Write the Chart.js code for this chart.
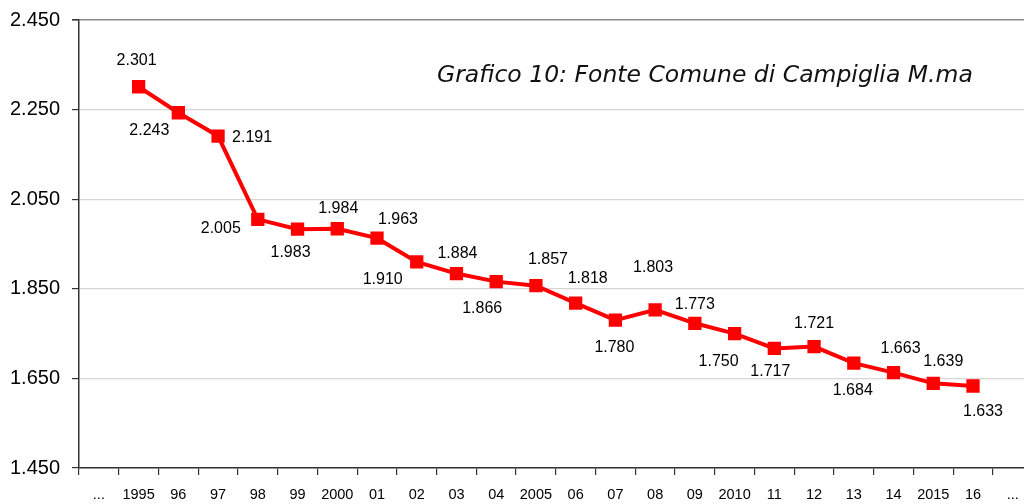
<!DOCTYPE html>
<html>
<head>
<meta charset="utf-8">
<script src="https://cdn.jsdelivr.net/npm/chart.js@4/dist/chart.umd.min.js"></script>
<style>
  html, body { margin: 0; padding: 0; background: #fff; overflow: hidden; }
  #c { display: block; }
</style>
</head>
<body>
<canvas id="c" width="1024" height="504"></canvas>
<script>
// ---- data ----
const categories = ['...', '1995', '96', '97', '98', '99', '2000', '01', '02', '03', '04', '2005',
                    '06', '07', '08', '09', '2010', '11', '12', '13', '14', '2015', '16', '...'];
const population = [null, 2301, 2243, 2191, 2005, 1983, 1984, 1963, 1910, 1884, 1866, 1857,
                    1818, 1780, 1803, 1773, 1750, 1717, 1721, 1684, 1663, 1639, 1633, null];
const yTicks = [1450, 1650, 1850, 2050, 2250, 2450];
const chartTitle = 'Grafico 10: Fonte Comune di Campiglia M.ma';

// ---- label placement (style only: offsets in px from each point) ----
const labelOffsets = [null, [-2, -26], [-29, 18], [34, 2], [-37, 9], [-7, 23], [1, -20], [21, -19],
                      [-34, 18], [1, -20], [-14, 27], [12, -26], [12, -25], [-1, 27], [-2, -42],
                      [0, -19], [-16, 28], [-4, 23], [0, -23], [-1, 27], [7, -24], [10, -22],
                      [10, 26], null];
// the plot area continues past the right edge of the picture (cropped original)
const plotRightEdge = 1032.6;

function fmt(v) {
  return String(v).replace(/\B(?=(\d{3})+(?!\d))/g, '.');
}

const extendRight = {
  id: 'extendRight',
  afterLayout(chart) {
    const xs = chart.scales.x;
    xs.right = plotRightEdge;
    xs.width = xs.right - xs.left;
    xs.configure();
    chart.chartArea.right = plotRightEdge;
    chart.chartArea.width = plotRightEdge - chart.chartArea.left;
  }
};

const valueLabels = {
  id: 'valueLabels',
  afterDatasetsDraw(chart) {
    const ctx = chart.ctx;
    const meta = chart.getDatasetMeta(0);
    ctx.save();
    ctx.font = '16px "Liberation Sans", Arial, Helvetica, sans-serif';
    ctx.fillStyle = '#000';
    ctx.textAlign = 'center';
    ctx.textBaseline = 'middle';
    meta.data.forEach((pt, i) => {
      const v = population[i];
      if (v === null || !labelOffsets[i]) return;
      ctx.fillText(fmt(v), pt.x + labelOffsets[i][0], pt.y + labelOffsets[i][1]);
    });
    ctx.restore();
  }
};

const innerTitle = {
  id: 'innerTitle',
  afterDraw(chart) {
    const ctx = chart.ctx;
    ctx.save();
    ctx.font = 'italic 23.5px "DejaVu Sans", Verdana, sans-serif';
    ctx.fillStyle = '#111';
    ctx.textAlign = 'left';
    ctx.textBaseline = 'alphabetic';
    ctx.fillText(chartTitle, 437, 82);
    ctx.restore();
  }
};

new Chart(document.getElementById('c'), {
  type: 'line',
  data: {
    labels: categories,
    datasets: [{
      data: population,
      borderColor: '#ff0000',
      backgroundColor: '#ff0000',
      borderWidth: 4,
      tension: 0,
      pointStyle: 'rect',
      pointRadius: 9.4,
      pointBorderWidth: 0,
      pointBackgroundColor: '#ff0000',
      spanGaps: false
    }]
  },
  options: {
    responsive: false,
    maintainAspectRatio: false,
    animation: false,
    layout: { padding: { top: 20, left: 0, right: 0, bottom: 0 } },
    plugins: { legend: { display: false }, tooltip: { enabled: false }, title: { display: false } },
    scales: {
      x: {
        type: 'category',
        offset: true,
        afterFit(scale) { scale.height = 36; scale.paddingLeft = 0; scale.paddingRight = 0; },
        grid: {
          offset: true,
          drawOnChartArea: false,
          drawTicks: true,
          tickLength: 7,
          color: '#333',
          lineWidth: 1.2
        },
        border: { display: true, color: '#333', width: 1.5 },
        ticks: {
          autoSkip: false,
          maxRotation: 0,
          padding: 11,
          color: '#000',
          font: { family: '"Liberation Sans", Arial, Helvetica, sans-serif', size: 14.5 }
        }
      },
      y: {
        min: yTicks[0],
        max: yTicks[yTicks.length - 1],
        afterFit(scale) { scale.width = 79; scale.paddingTop = 0; scale.paddingBottom = 0; },
        afterBuildTicks(scale) { scale.ticks = yTicks.map(v => ({ value: v })); },
        grid: {
          drawTicks: true,
          tickLength: 7,
          color(ctx) { return ctx.tick && ctx.tick.value === 2450 ? '#8a8a8a' : '#d6d6d6'; },
          lineWidth(ctx) { return ctx.tick && ctx.tick.value === 2450 ? 1.6 : 1.2; },
          tickColor: '#333'
        },
        border: { display: true, color: '#333', width: 1.5 },
        ticks: {
          padding: 12,
          color: '#000',
          font: { family: '"Liberation Sans", Arial, Helvetica, sans-serif', size: 20 },
          callback: (v) => fmt(v)
        }
      }
    }
  },
  plugins: [extendRight, valueLabels, innerTitle]
});
</script>
</body>
</html>
